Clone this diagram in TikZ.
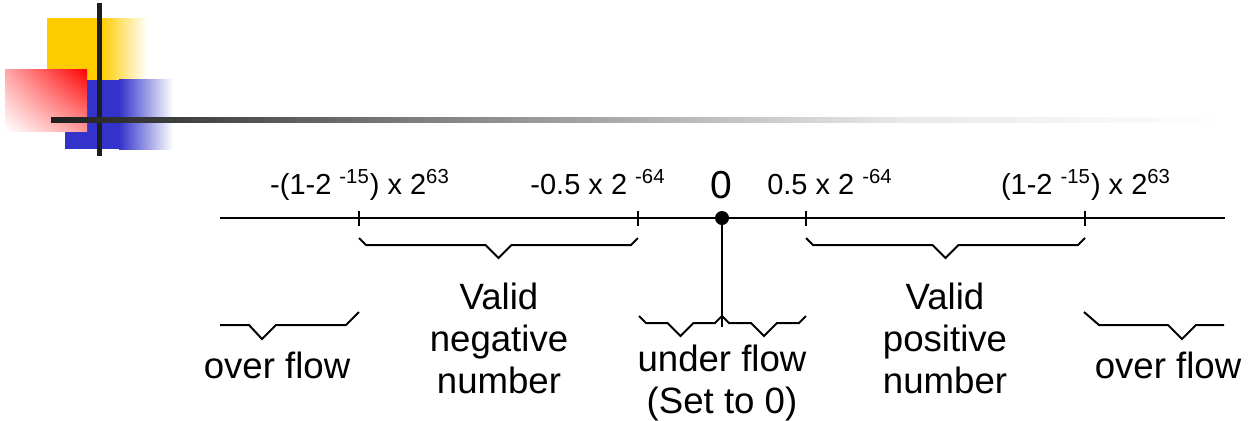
\documentclass[tikz,border=0pt]{standalone}
\usepackage{fontspec}
\setmainfont{Liberation Sans}
\usetikzlibrary{shadings}
\definecolor{logoyellow}{HTML}{FFCC00}
\definecolor{logoblue}{HTML}{3333CC}
\definecolor{bardark}{HTML}{1E1E1E}
% bent bracket under a range: #1 left x, #2 right x, #3 y, #4 size of the end hooks
\newcommand\bracket[4]{%
\draw[axis line] ({#1},{#3-#4}) -- ({#1+#4},#3) -- ({(#1+#2)/2-13},#3) -- ({(#1+#2)/2},{#3+13})
  -- ({(#1+#2)/2+13},#3) -- ({#2-#4},#3) -- ({#2},{#3-#4});
}
\tikzset{
  axis line/.style={line width=1pt},
  top label/.style={font=\fontsize{14.5}{17}\selectfont, anchor=base, inner sep=0pt},
  part label/.style={font=\fontsize{18.3}{21}\selectfont, align=center, anchor=north, inner sep=0pt},
}

\begin{document}
\begin{tikzpicture}[x=0.5pt,y=-0.5pt]
	\useasboundingbox (0,0) rectangle (1251,420);

	%% corner logo
	\fill[logoyellow] (47,18) rectangle (102,80);
	\shade[left color=logoyellow, right color=white] (101,18) rectangle (147,80);
	\fill[logoblue] (65,80) rectangle (120,149);
	\shade[left color=logoblue, right color=white] (119,79) rectangle (173,149);
	\shade[upper left=red!35, upper right=red, lower left=white, lower right=red!40] (5,69) rectangle (87,131);
	\fill[bardark] (97,3) rectangle (102,156);
	% title rule, fading out to the right
	\shade[left color=bardark, right color=black!50] (51,117) rectangle (420,122);
	\shade[left color=black!50, right color=black!9] (419.5,117) rectangle (900,122);
	\shade[left color=black!9, right color=white] (899.5,117) rectangle (1225,122);

	%% number line
	\draw[axis line] (220,218) -- (1225,218);
	\foreach \x in {359,638,806,1085}
		\draw[axis line] (\x,211) -- (\x,226);
	\node[circle, fill, inner sep=0pt, minimum size=7pt] (zero) at (722,218) {};
	\coordinate (uf) at (722,327);
	\draw[axis line] (zero) -- (uf);

	% labels above the line
	\node[top label] (maxneg) at (360,194) {-(1-2 \textsuperscript{-15}) x 2\textsuperscript{63}};
	\node[top label] (minneg) at (598,194) {-0.5 x 2 \textsuperscript{-64}};
	\node[top label, font=\fontsize{19.5}{22}\selectfont] (zerolbl) at (721,198) {0};
	\node[top label] (minpos) at (830,194) {0.5 x 2 \textsuperscript{-64}};
	\node[top label] (maxpos) at (1086,194) {(1-2 \textsuperscript{-15}) x 2\textsuperscript{63}};

	%% brackets
	\bracket{359}{638}{245}{7}
	\bracket{806}{1085}{245}{7}
	\bracket{639}{722}{323}{7}
	\bracket{722}{806}{323}{7}
	\draw[axis line] (220,325) -- (249,325) -- (262,339) -- (276,325) -- (346,325) -- (359,312);
	\draw[axis line] (1084,312) -- (1099,325) -- (1168,325) -- (1182,339) -- (1196,325) -- (1224,325);

	% what each range means
	\node[part label] (ovl) at (277,352) {over flow};
	\node[part label] (negv) at (499,283) {Valid\\negative\\number};
	\node[part label] (under) at (722,345) {under flow\\(Set to 0)};
	\node[part label] (posv) at (945,283) {Valid\\positive\\number};
	\node[part label] (ovr) at (1168,352) {over flow};
\end{tikzpicture}
\end{document}
